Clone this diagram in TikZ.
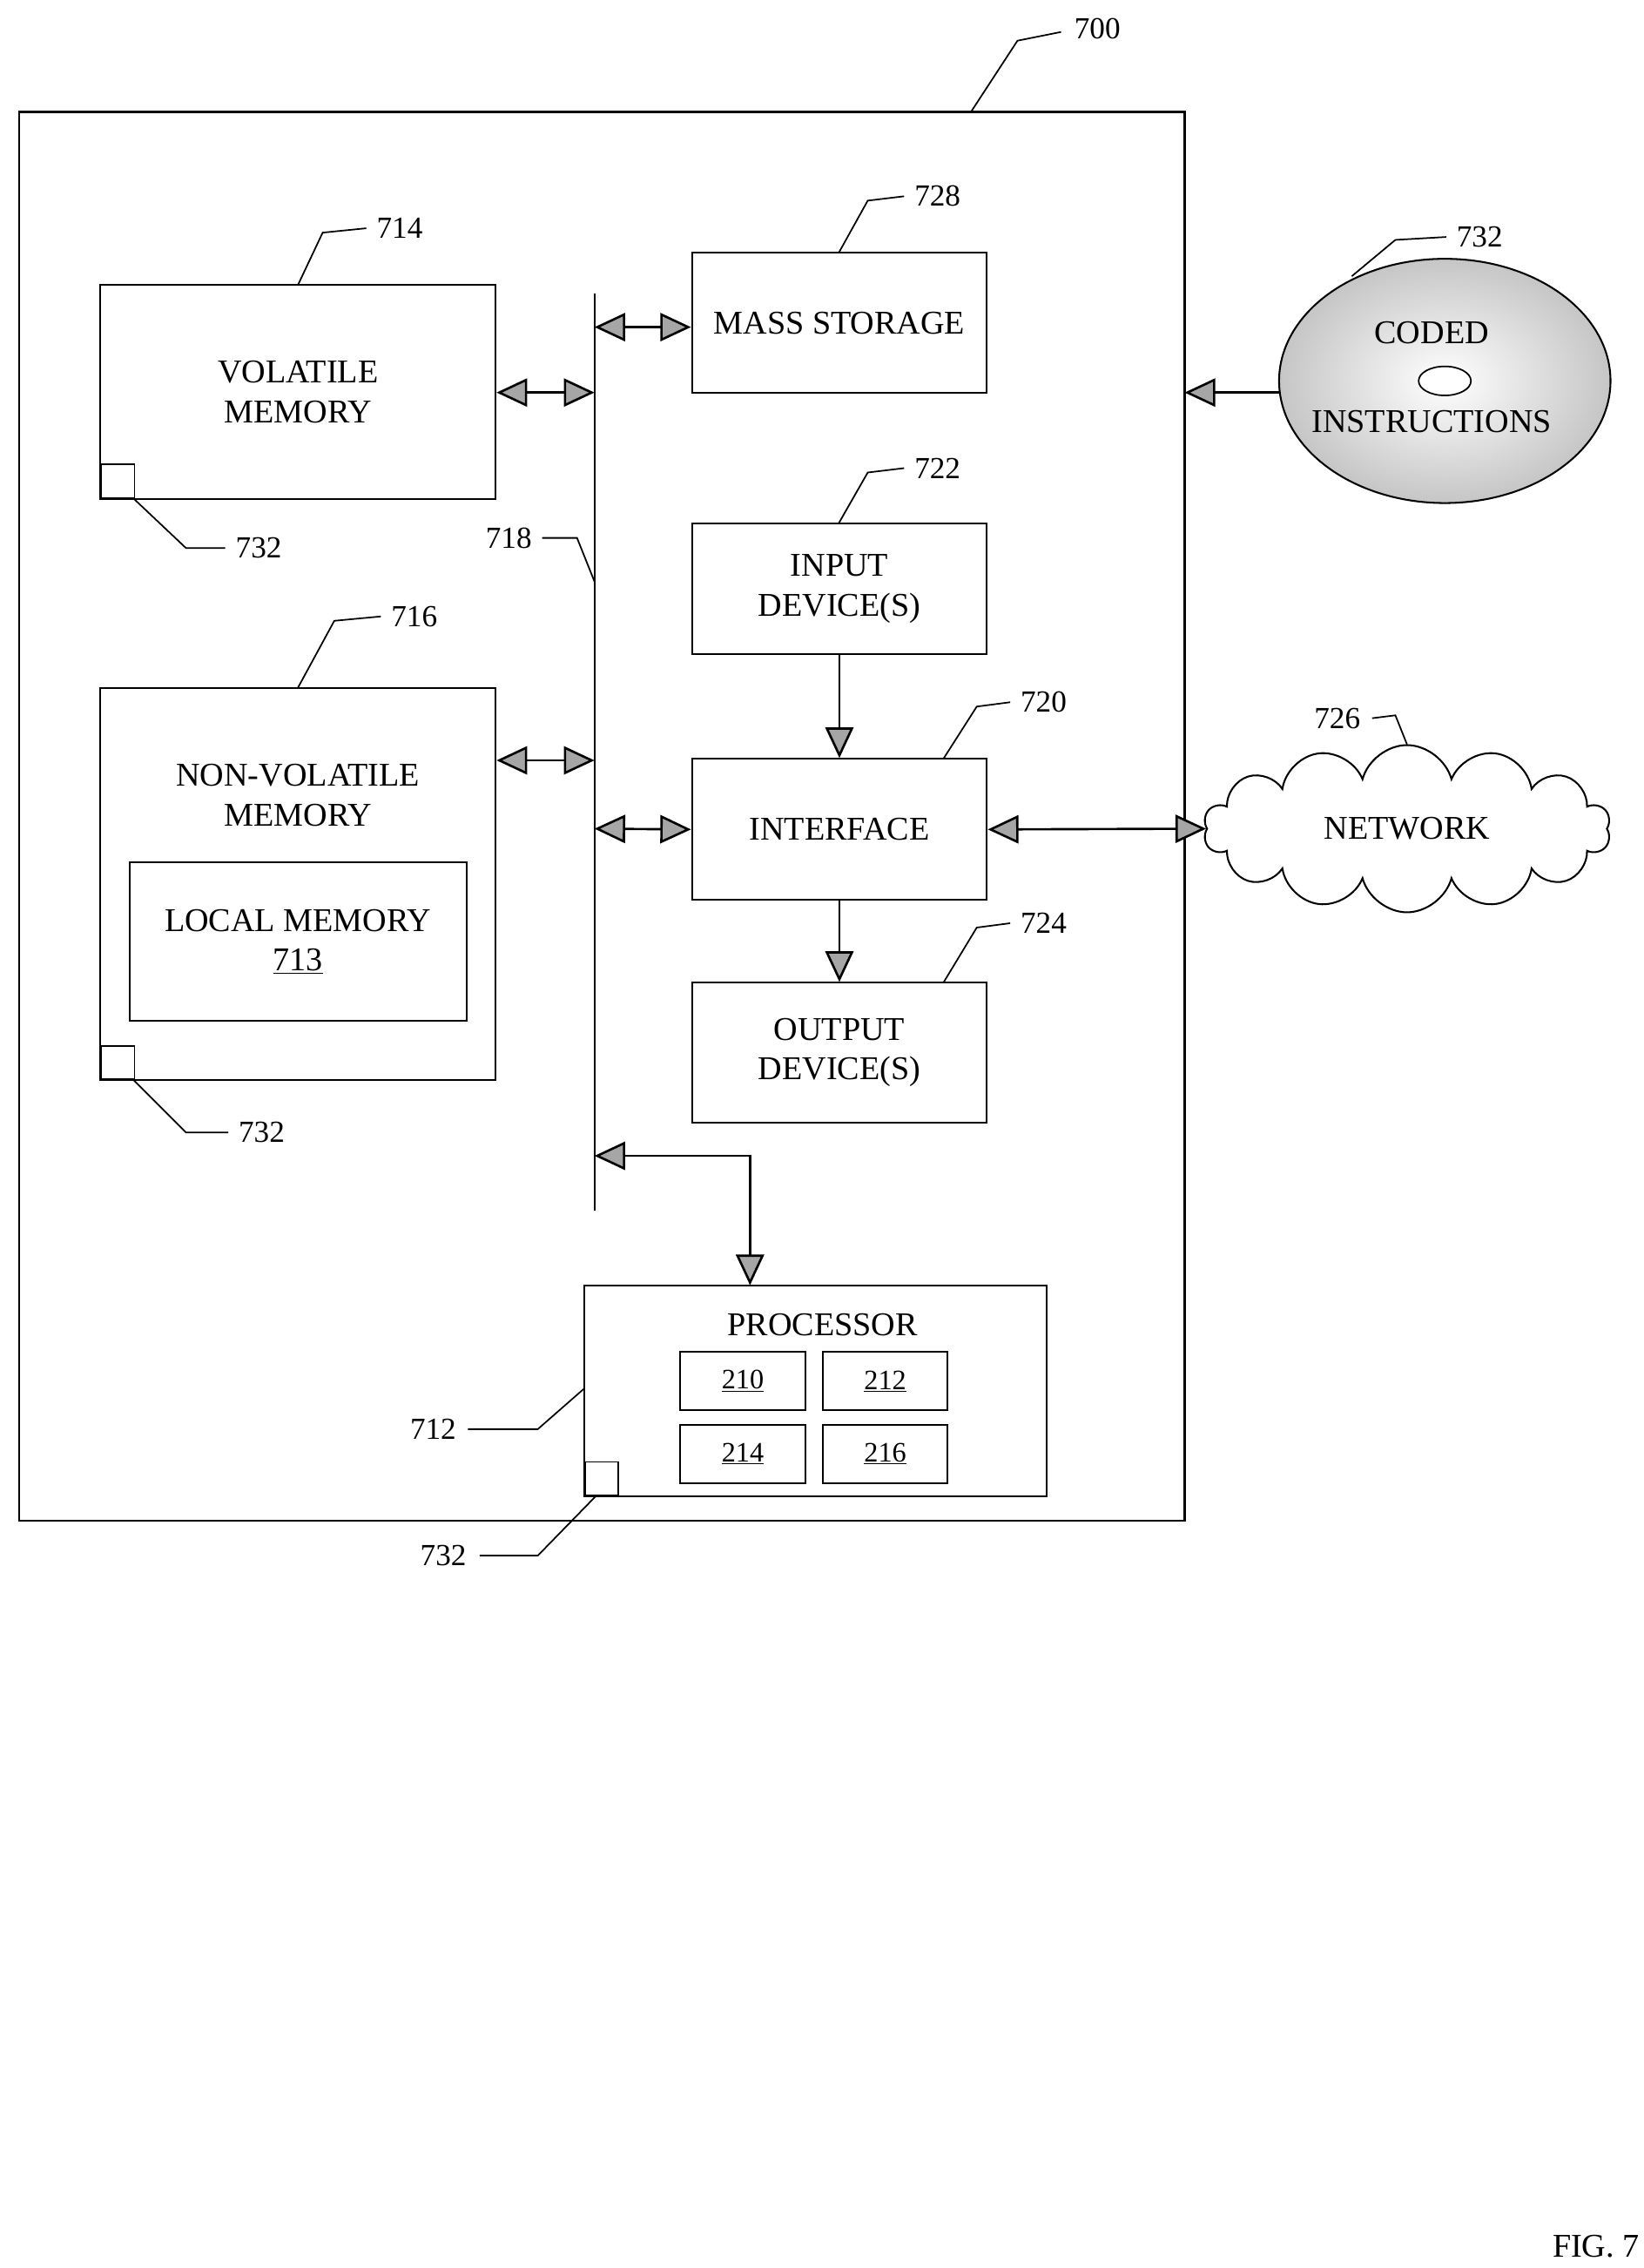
\documentclass[tikz,border=0pt]{standalone}
\usepackage{fontspec}
\setmainfont{Liberation Serif}
\usetikzlibrary{arrows.meta,shapes.symbols,positioning}
\tikzset{
  blk/.style 2 args={draw,line width=1.4pt,align=center,inner sep=0pt,
    minimum width=#1*0.04cm,minimum height=#2*0.04cm},
  tag/.style={font=\fontsize{24}{26}\selectfont},
  lead/.style={line width=1.2pt},
  tip/.tip={Triangle[fill=gray!70,length=24pt,width=22pt]},
  dbl/.style={line width=1.8pt,tip-tip},
  sgl/.style={line width=1.8pt,-tip},
  sq/.style={draw,line width=1.2pt,minimum size=23*0.04cm,inner sep=0pt,anchor=south west}
}
\begin{document}
\begin{tikzpicture}[x=0.04cm,y=-0.04cm,font=\fontsize{26}{31}\selectfont]
\useasboundingbox (0,0) rectangle (1131,1560);
% outer box
\draw[line width=1.6pt] (13,77) rectangle (815,1046);
\node[tag] (t700) at (755,20) {700};
\draw[lead] (668,77) -- (700,28) -- (730,22);
% memories
\node[blk={272}{147}] (vol) at (205,269.5) {VOLATILE\\MEMORY};
\node[sq] (sq1) at (69,343) {};
\node[tag] (t714) at (275,157) {714};
\draw[lead] (205,196) -- (222,160) -- (252,157);
\node[tag] (t732a) at (178,377) {732};
\draw[lead] (92,343) -- (128,377) -- (155,377);
\node[blk={272}{270}] (nvol) at (205,608) {};
\node[align=center] at (205,547) {NON-VOLATILE\\MEMORY};
\node[blk={232}{109}] (loc) at (205,647.5) {LOCAL MEMORY\\\underline{713}};
\node[sq] (sq2) at (69,743) {};
\node[tag] (t716) at (285,424) {716};
\draw[lead] (205,473) -- (230,427) -- (262,424);
\node[tag] (t732b) at (180,779) {732};
\draw[lead] (92,743) -- (128,779) -- (157,779);
% bus
\coordinate (btop) at (409,202);
\coordinate (bbot) at (409,833);
\draw[line width=1.6pt] (btop) -- (bbot);
\node[tag] (t718) at (350,370) {718};
\draw[lead] (373,370) -- (397,370) -- (409,400);
% devices
\node[blk={203}{96}] (mass) at (577.5,222) {MASS STORAGE};
\node[tag] (t728) at (645,135) {728};
\draw[lead] (577,174) -- (597,138) -- (622,135);
\node[blk={203}{90}] (in) at (577.5,405) {INPUT\\DEVICE(S)};
\node[tag] (t722) at (645,322) {722};
\draw[lead] (577,360) -- (597,325) -- (622,322);
\node[blk={203}{97}] (intf) at (577.5,570.5) {INTERFACE};
\node[tag] (t720) at (718,483) {720};
\draw[lead] (649,522) -- (672,486) -- (695,483);
\node[blk={203}{96}] (out) at (577.5,724) {OUTPUT\\DEVICE(S)};
\node[tag] (t724) at (718,635) {724};
\draw[lead] (649,676) -- (672,638) -- (695,635);
% processor
\node[blk={318}{145}] (proc) at (561,956.5) {};
\node at (566,911) {PROCESSOR};
\foreach \n/\x/\y in {210/511/950,212/609/950,214/511/1000,216/609/1000}
  \node[blk={86}{40},font=\fontsize{22}{24}\selectfont] (c\n) at (\x,\y) {\underline{\n}};
\node[sq] (sq3) at (402,1029) {};
\node[tag] (t712) at (298,983) {712};
\draw[lead] (322,983) -- (370,983) -- (402,955);
\node[tag] (t732c) at (305,1070) {732};
\draw[lead] (330,1070) -- (370,1070) -- (410,1029);
% disc
\shade[outer color=gray!45,inner color=white,draw=black,line width=1.4pt] (994,262) ellipse [x radius=114,y radius=84];
\draw[line width=1.2pt,fill=white] (994,262) ellipse [x radius=18,y radius=10];
\node (coded) at (985,229) {CODED};
\node (instr) at (985,290) {INSTRUCTIONS};
\coordinate (disc) at (880,270);
\node[tag] (t732d) at (1018,163) {732};
\draw[lead] (930,190) -- (960,165) -- (995,163);
% network
\node[cloud,draw,line width=1.4pt,cloud puffs=14,aspect=2.6,minimum width=280*0.04cm,minimum height=115*0.04cm] (net) at (968,570) {NETWORK};
\node[tag] (t726) at (920,494) {726};
\draw[lead] (944,494) -- (960,492) -- (968,512);
% connectors
\draw[dbl] (vol.east |- 0,270) -- (409,270);
\draw[dbl] (409,225) -- (mass.west |- 0,225);
\draw[dbl] (nvol.east |- 0,523) -- (409,523);
\draw[dbl] (409,570) -- (intf.west);
\draw[sgl] (in) -- (intf);
\draw[sgl] (intf) -- (out);
\draw[dbl] (intf.east) -- (net.west);
\draw[sgl] (disc) -- (815,270);
\draw[dbl] (409,795) -- (516,795) -- (516,884);
\node (fig) at (1098,1545) {FIG. 7};
\end{tikzpicture}
\end{document}
